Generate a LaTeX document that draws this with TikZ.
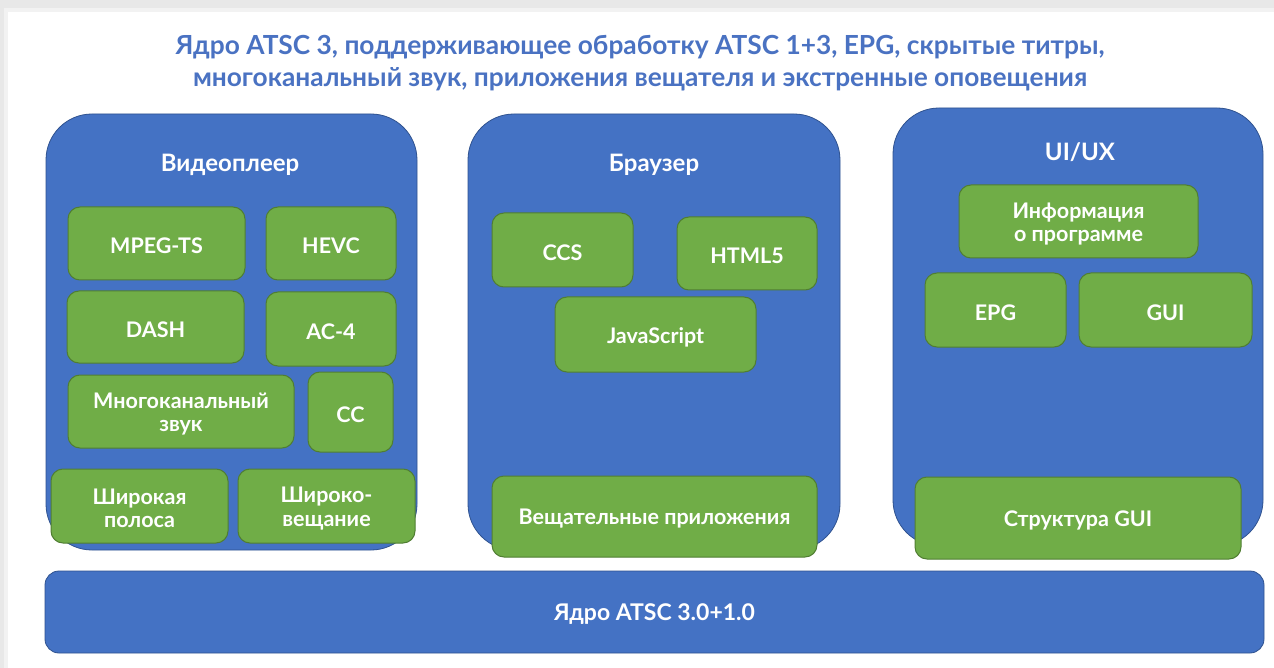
\documentclass[tikz,border=0pt]{standalone}
\usepackage{fontspec}
\setmainfont{Lato}
\definecolor{panelblue}{HTML}{4472C4}
\definecolor{panelline}{HTML}{2F528F}
\definecolor{boxgreen}{HTML}{70AD47}
\definecolor{boxline}{HTML}{507E32}
\definecolor{titleblue}{HTML}{4A72C2}
\tikzset{
  panel/.style={fill=panelblue, draw=panelline, line width=0.8pt, rounded corners=46pt},
  gbox/.style={fill=boxgreen, draw=boxline, line width=1pt, rounded corners=12pt},
  lbl/.style={text=white, font=\bfseries\fontsize{21.5}{23.5}\selectfont, align=center, yshift=-2.5pt},
  ptitle/.style={text=white, font=\bfseries\fontsize{24}{28}\selectfont},
}
\begin{document}
\begin{tikzpicture}[x=1pt,y=-1pt]
\useasboundingbox (0,0) rectangle (1274,668);
% background and sheet
\fill[black!9] (0,0) rectangle (1274,668);
\fill[black!5] (4,8) rectangle (1274,668);
\fill[white] (8,12) rectangle (1274,668);
% title
\node[text=titleblue, font=\bfseries\fontsize{26.3}{32}\selectfont, align=center] (title) at (640,63)
  {Ядро ATSC 3, поддерживающее обработку ATSC 1+3, EPG, скрытые титры,\\
   многоканальный звук, приложения вещателя и экстренные оповещения};
% panels
\draw[panel] (46,114) rectangle (417,550);
\draw[panel] (468,114) rectangle (840,550);
\draw[panel] (893,108) rectangle (1263,546);
\node[ptitle] (tvid) at (230,165) {Видеоплеер};
\node[ptitle] (tbr) at (654,165) {Браузер};
\node[ptitle] (tui) at (1080,152) {UI/UX};
% left panel boxes
\draw[gbox] (68,207) rectangle (245,280) node[lbl, midway] (mpeg) {MPEG-TS};
\draw[gbox] (266,207) rectangle (396,280) node[lbl, midway] (hevc) {HEVC};
\draw[gbox] (67,291) rectangle (244,363) node[lbl, midway] (dash) {DASH};
\draw[gbox] (266,292) rectangle (396,366) node[lbl, midway] (ac4) {AC-4};
\draw[gbox] (68,375) rectangle (294,448) node[lbl, midway] (multi) {Многоканальный\\звук};
\draw[gbox] (308,372) rectangle (393,452) node[lbl, midway] (cc) {CC};
\draw[gbox] (51,469) rectangle (228,543) node[lbl, midway] (wide) {Широкая\\полоса};
\draw[gbox] (238,469) rectangle (415,543) node[lbl, midway] (bcast) {Широко-\\вещание};
% middle panel boxes
\draw[gbox] (492,213) rectangle (633,287) node[lbl, midway] (ccs) {CCS};
\draw[gbox] (677,217) rectangle (817,290) node[lbl, midway] (html) {HTML5};
\draw[gbox] (555,297) rectangle (756,372) node[lbl, midway] (js) {JavaScript};
\draw[gbox] (492,476) rectangle (817,557) node[lbl, midway] (apps) {Вещательные приложения};
% right panel boxes
\draw[gbox] (959,185) rectangle (1198,258) node[lbl, midway] (info) {Информация\\о программе};
\draw[gbox] (925,273) rectangle (1066,347) node[lbl, midway] (epg) {EPG};
\draw[gbox] (1079,273) rectangle (1252,347) node[lbl, midway] (gui) {GUI};
\draw[gbox] (915,477) rectangle (1241,559) node[lbl, midway] (struct) {Структура GUI};
% bottom bar
\draw[fill=panelblue, draw=panelline, line width=0.8pt, rounded corners=14pt] (45,571) rectangle (1264,653)
  node[lbl, midway, font=\bfseries\fontsize{23}{26}\selectfont] (core) {Ядро ATSC 3.0+1.0};
\end{tikzpicture}
\end{document}
